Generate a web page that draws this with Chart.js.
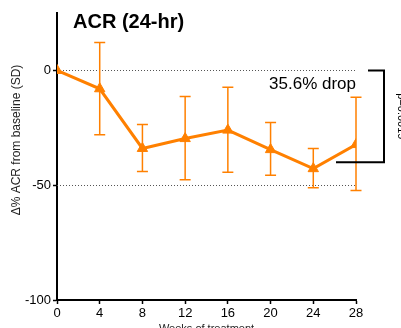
<!DOCTYPE html>
<html>
<head>
<meta charset="utf-8">
<script src="https://cdn.jsdelivr.net/npm/chart.js@4.4.1/dist/chart.umd.min.js"></script>
<style>
  html, body { margin: 0; padding: 0; background: #fff; overflow: hidden; }
  #wrap { position: relative; width: 401px; height: 340px; }
</style>
</head>
<body>
<div id="wrap"><canvas id="acr"></canvas></div>
<script>
// ---------- DATA ----------
const weeks = [0, 4, 8, 12, 16, 20, 24, 28];
const meanChange = [0, -8, -34, -29.7, -26, -34.5, -42.8, -32.3];
const sdUpper = [0, 12.2, -23.6, -11.4, -7.3, -22.7, -34, -11.7];
const sdLower = [0, -28, -44, -47.6, -44.4, -45.7, -51.1, -52.3];
const yTicks = [0, -50, -100];
const refLines = [0, -50];
const dropLabel = "35.6% drop";
const pLabel = "p=0.0019";
const bracketFrom = 0;
const bracketTo = -40;

const ORANGE = "#ff8000";
const FONT = "'Liberation Sans', Arial, sans-serif";

// ---------- PLUGIN: ref lines, error bars, labels ----------
const extras = {
  id: "extras",
  beforeDatasetsDraw(chart) {
    const { ctx, chartArea: a, scales: { x, y } } = chart;
    ctx.save();
    // dotted reference lines
    ctx.strokeStyle = "#555";
    ctx.lineWidth = 1;
    ctx.setLineDash([1, 2]);
    refLines.forEach(v => {
      const py = Math.round(y.getPixelForValue(v)) + 0.5;
      ctx.beginPath();
      ctx.moveTo(a.left, py);
      ctx.lineTo(a.right, py);
      ctx.stroke();
    });
    ctx.setLineDash([]);

    // error bars
    ctx.strokeStyle = ORANGE;
    ctx.lineWidth = 1.5;
    weeks.forEach((w, i) => {
      if (sdUpper[i] === sdLower[i]) return;
      const px = x.getPixelForValue(w);
      const top = y.getPixelForValue(sdUpper[i]);
      const bot = y.getPixelForValue(sdLower[i]);
      ctx.beginPath();
      ctx.moveTo(px, top); ctx.lineTo(px, bot);
      ctx.moveTo(px - 5.5, top); ctx.lineTo(px + 5.5, top);
      ctx.moveTo(px - 5.5, bot); ctx.lineTo(px + 5.5, bot);
      ctx.stroke();
    });
    ctx.restore();
  },
  afterDraw(chart) {
    const { ctx, chartArea: a, scales: { x, y } } = chart;
    ctx.save();
    ctx.fillStyle = "#000";

    // title
    ctx.font = `bold 20px ${FONT}`;
    ctx.textAlign = "left";
    ctx.textBaseline = "middle";
    ctx.fillText("ACR (24-hr)", 73, 22);

    // drop label
    ctx.font = `17px ${FONT}`;
    ctx.textAlign = "right";
    ctx.fillText(dropLabel, a.right, y.getPixelForValue(bracketFrom) + 14);

    // bracket
    const yTop = y.getPixelForValue(bracketFrom);
    const yBot = y.getPixelForValue(bracketTo);
    ctx.strokeStyle = "#000";
    ctx.lineWidth = 2;
    ctx.beginPath();
    ctx.moveTo(a.right + 12, yTop);
    ctx.lineTo(a.right + 28, yTop);
    ctx.lineTo(a.right + 28, yBot);
    ctx.lineTo(a.right - 20, yBot);
    ctx.stroke();

    // p value (rotated, clipped by page edge)
    ctx.font = `11px ${FONT}`;
    ctx.textAlign = "center";
    ctx.translate(a.right + 45, (yTop + yBot) / 2);
    ctx.rotate(Math.PI / 2);
    ctx.fillText(pLabel, 0, 0);
    ctx.setTransform(1, 0, 0, 1, 0, 0);

    // y axis title
    ctx.font = `12px ${FONT}`;
    ctx.fillStyle = "#222";
    ctx.translate(17, 140);
    ctx.rotate(-Math.PI / 2);
    ctx.fillText("Δ% ACR from baseline (SD)", 0, 0);
    ctx.restore();
  }
};

// ---------- CHART ----------
new Chart(document.getElementById("acr"), {
  type: "line",
  data: {
    datasets: [{
      data: weeks.map((w, i) => ({ x: w, y: meanChange[i] })),
      borderColor: ORANGE,
      backgroundColor: ORANGE,
      borderWidth: 3,
      pointStyle: "triangle",
      pointRadius: 6,
      pointBorderWidth: 1,
      tension: 0,
    }],
  },
  options: {
    responsive: true,
    maintainAspectRatio: false,
    animation: false,
    layout: { padding: { top: 13, right: 45, left: 0, bottom: 0 } },
    plugins: { legend: { display: false }, tooltip: { enabled: false } },
    scales: {
      x: {
        type: "linear",
        min: 0,
        max: 28,
        ticks: { stepSize: 4, color: "#000", font: { family: FONT, size: 13 }, padding: 2 },
        grid: { drawOnChartArea: false, tickLength: 4, tickColor: "#000", tickWidth: 1.5 },
        border: { color: "#000", width: 2 },
        title: { display: true, text: "Weeks of treatment", color: "#222", font: { family: FONT, size: 11 }, padding: { top: 2 } },
        afterFit(s) { s.height = 40; },
      },
      y: {
        min: -100,
        max: 25,
        afterBuildTicks(s) { s.ticks = yTicks.map(v => ({ value: v })); },
        ticks: { color: "#000", font: { family: FONT, size: 13 }, padding: 2 },
        grid: { drawOnChartArea: false, tickLength: 4, tickColor: "#000", tickWidth: 1.5 },
        border: { color: "#000", width: 2 },
        afterFit(s) { s.width = 57; },
      },
    },
  },
  plugins: [extras],
});
</script>
</body>
</html>
